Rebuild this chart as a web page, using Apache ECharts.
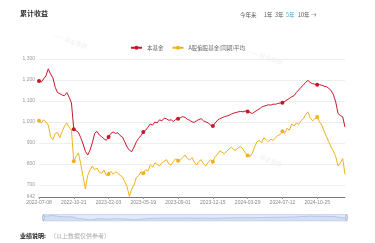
<!DOCTYPE html>
<html><head><meta charset="utf-8">
<script src="https://cdn.jsdelivr.net/npm/echarts@6/dist/echarts.min.js"></script>
<style>html,body{margin:0;padding:0;background:#fff}#c{width:375px;height:243px}</style>
</head><body><div id="c"></div>
<script>
const dates = [
"2022-07-08","2022-07-15","2022-07-22","2022-07-29","2022-08-05","2022-08-12","2022-08-19","2022-08-26","2022-09-02","2022-09-09",
"2022-09-16","2022-09-23","2022-09-30","2022-10-07","2022-10-14","2022-10-21","2022-10-28","2022-11-04","2022-11-11","2022-11-18",
"2022-11-25","2022-12-02","2022-12-09","2022-12-16","2022-12-23","2022-12-30","2023-01-06","2023-01-13","2023-01-20","2023-01-27",
"2023-02-03","2023-02-10","2023-02-17","2023-02-24","2023-03-03","2023-03-10","2023-03-17","2023-03-24","2023-03-31","2023-04-07",
"2023-04-14","2023-04-21","2023-04-28","2023-05-05","2023-05-12","2023-05-19","2023-05-26","2023-06-02","2023-06-09","2023-06-16",
"2023-06-23","2023-06-30","2023-07-07","2023-07-14","2023-07-21","2023-07-28","2023-08-04","2023-08-11","2023-08-18","2023-08-25",
"2023-09-01","2023-09-08","2023-09-15","2023-09-22","2023-09-29","2023-10-06","2023-10-13","2023-10-20","2023-10-27","2023-11-03",
"2023-11-10","2023-11-17","2023-11-24","2023-12-01","2023-12-08","2023-12-15","2023-12-22","2023-12-29","2024-01-05","2024-01-12",
"2024-01-19","2024-01-26","2024-02-02","2024-02-09","2024-02-16","2024-02-23","2024-03-01","2024-03-08","2024-03-15","2024-03-22",
"2024-03-29","2024-04-05","2024-04-12","2024-04-19","2024-04-26","2024-05-03","2024-05-10","2024-05-17","2024-05-24","2024-05-31",
"2024-06-07","2024-06-14","2024-06-21","2024-06-28","2024-07-05","2024-07-12","2024-07-19","2024-07-26","2024-08-02","2024-08-09",
"2024-08-16","2024-08-23","2024-08-30","2024-09-06","2024-09-13","2024-09-20","2024-09-27","2024-10-04","2024-10-11","2024-10-18",
"2024-10-25","2024-11-01","2024-11-08","2024-11-15","2024-11-22","2024-11-29","2024-12-06","2024-12-13","2024-12-20","2024-12-27",
"2025-01-03","2025-01-10","2025-01-17"
];
const fundValues = [
1195,1190,1205,1220,1253,1228,1210,1165,1140,1135,
1128,1125,1140,1118,1090,965,958,950,925,895,
860,842,865,900,945,955,938,930,920,912,
928,945,952,945,948,935,928,905,880,865,
858,880,905,922,935,952,960,975,990,985,
1000,995,1010,1005,1018,1015,1008,1010,1002,1012,
1015,1020,1025,1022,1012,1008,1000,998,1005,1012,
1015,1005,1000,995,985,981,995,1008,1015,1020,
1025,1028,1032,1038,1042,1045,1048,1050,1048,1052,
1050,1045,1040,1048,1055,1062,1070,1075,1078,1082,
1080,1085,1084,1088,1090,1091,1098,1105,1112,1120,
1125,1140,1152,1165,1175,1188,1198,1188,1182,1180,
1177,1178,1175,1170,1168,1160,1150,1130,1095,1040,
1030,1025,975
];
const peerValues = [
1005,995,1010,1000,985,930,915,945,950,925,
955,980,995,975,960,812,835,852,800,740,
680,745,770,790,772,780,760,755,770,745,
752,765,750,762,755,745,738,715,690,645,
680,700,735,745,762,755,772,765,795,785,
805,798,790,805,812,820,800,795,812,825,
815,818,830,842,825,818,830,808,795,812,
820,800,790,808,820,810,835,845,862,855,
848,860,872,880,868,865,878,882,870,852,
840,835,850,880,905,912,900,925,915,905,
918,912,925,935,940,955,945,970,960,990,
980,995,988,1005,1015,1035,1048,1020,1005,1015,
1024,1000,985,955,930,905,880,860,835,790,
805,825,750
];
const seriesNames = ["本基金","A股偏股基金(同期)平均"];
const periodTabs = ["今年来","1年","3年","5年","10年","→"];

const chart = echarts.init(document.getElementById('c'), null, {renderer:'canvas'});
const tabX = [240,264,275,286,298,311];
const graphics = [
  {type:'text', left:20, top:10, style:{text:'累计收益', fontSize:7, fontWeight:'bold', fill:'#333', fontFamily:'Noto Sans CJK SC'}},
  {type:'text', left:20, top:233, style:{text:'业绩说明:', fontSize:6, fontWeight:'bold', fill:'#222', fontFamily:'Noto Sans CJK SC'}},
  {type:'text', left:50, top:233, style:{text:'（以上数据仅供参考）', fontSize:6, fill:'#aaa', fontFamily:'Noto Sans CJK SC'}}
];
periodTabs.forEach((t,i)=>{
  graphics.push({type:'text', left:tabX[i], top:12, style:{text:t, fontSize:5.5, fill: i===3 ? '#3aa6d8' : '#555', fontFamily:'Noto Sans CJK SC'}});
});
[[55,32],[250,48],[110,135],[250,150]].forEach(p=>{
  graphics.push({type:'text', x:p[0], y:p[1], rotation:-0.35, style:{text:'—— 基金数据', fontSize:6, fill:'rgba(0,0,0,0.07)', fontFamily:'Noto Sans CJK SC'}});
});

chart.setOption({
  animation:false,
  graphic: graphics,
  legend:{
    top:40, left:'center', itemWidth:11, itemHeight:5, itemGap:8,
    textStyle:{fontSize:5.5, color:'#666', fontFamily:'Noto Sans CJK SC'},
    data: seriesNames
  },
  grid:{left:39, right:30, top:59, bottom:46},
  xAxis:{
    type:'category', boundaryGap:false, data: dates,
    axisLine:{lineStyle:{color:'#777', width:1}},
    axisTick:{show:true, interval:14, length:2, lineStyle:{color:'#999'}},
    axisLabel:{interval:14, fontSize:5, color:'#888', margin:3, fontFamily:'Liberation Sans'}
  },
  yAxis:{
    type:'value', min:642, max:1300, splitNumber:7,
    axisLine:{show:false}, axisTick:{show:false},
    splitLine:{lineStyle:{color:'#eee'}},
    axisLabel:{fontSize:5, color:'#999', margin:4, fontFamily:'Liberation Sans',
      formatter:v=>Math.round(v).toLocaleString('en-US')}
  },
  dataZoom:[{
    type:'slider', start:0, end:100, left:40, right:30, bottom:23, height:7,
    showDetail:false, brushSelect:false, moveHandleSize:0, handleSize:'100%',
    borderColor:'#c9d6ee', fillerColor:'rgba(170,195,240,0.35)',
    dataBackground:{lineStyle:{color:'#b8c8e6', width:0.5}, areaStyle:{color:'#dde6f5'}},
    handleStyle:{color:'#fff', borderColor:'#aab8d4'}
  }],
  series:[
    {name:seriesNames[0], type:'line', data:fundValues, symbol:'circle', symbolSize:4,
     showAllSymbol:'auto', lineStyle:{width:1, color:'#c8162a'}, itemStyle:{color:'#c8162a'}},
    {name:seriesNames[1], type:'line', data:peerValues, symbol:'circle', symbolSize:4,
     showAllSymbol:'auto', lineStyle:{width:1, color:'#f0b21a'}, itemStyle:{color:'#f0b21a'}}
  ]
});
</script></body></html>
